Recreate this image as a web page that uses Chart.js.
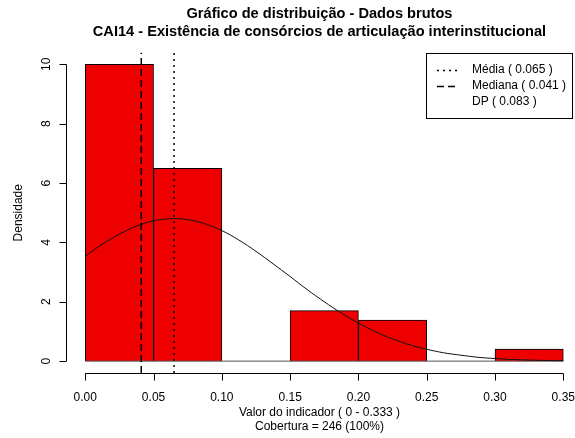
<!doctype html>
<html lang="pt">
<head>
    <meta charset="utf-8">
    <title>CAI14 - Gráfico de distribuição</title>
    <style>
        html, body { margin: 0; padding: 0; background: #fff; }
        #wrap { width: 575px; height: 438px; }
    </style>
</head>
<body>
    <div id="wrap"><canvas id="myChart" width="575" height="438"></canvas></div>

    <script src="https://cdn.jsdelivr.net/npm/chart.js"></script>
    <script>
        // histogram (densidade por classe de 0.05)
        var binMids = [0.025, 0.075, 0.125, 0.175, 0.225, 0.275, 0.325];
        var density = [10, 6.5, 0, 1.7, 1.38, 0, 0.41];
        var binStart = 0, binEnd = 0.35;

        // curva normal
        var curveX = [0, 0.0125, 0.025, 0.0375, 0.05, 0.0625, 0.075, 0.0875, 0.1, 0.1125, 0.125, 0.1375,
                      0.15, 0.1625, 0.175, 0.1875, 0.2, 0.2125, 0.225, 0.2375, 0.25, 0.2625, 0.275, 0.2875,
                      0.3, 0.3125, 0.325, 0.3375, 0.35];
        var curveY = [3.54, 3.94, 4.28, 4.55, 4.73, 4.80, 4.77, 4.63, 4.40, 4.08, 3.70, 3.28,
                      2.85, 2.41, 2.00, 1.62, 1.28, 0.99, 0.75, 0.55, 0.40, 0.28, 0.20, 0.13,
                      0.087, 0.056, 0.035, 0.022, 0.013];

        var media = 0.065, mediana = 0.041, dp = 0.083;

        var xTicks = [0, 0.05, 0.10, 0.15, 0.20, 0.25, 0.30, 0.35];
        var xTickLabels = ['0.00', '0.05', '0.10', '0.15', '0.20', '0.25', '0.30', '0.35'];
        var yTicks = [0, 2, 4, 6, 8, 10];

        var title1 = 'Gráfico de distribuição - Dados brutos';
        var title2 = 'CAI14 - Existência de consórcios de articulação interinstitucional';
        var xTitle1 = 'Valor do indicador ( 0 - 0.333 )';
        var xTitle2 = 'Cobertura = 246 (100%)';
        var yTitle = 'Densidade';
        var legendItems = [
            { text: 'Média ( ' + media + ' )', dash: [2, 4] },
            { text: 'Mediana ( ' + mediana + ' )', dash: [7, 4] },
            { text: 'DP ( ' + dp + ' )', dash: null }
        ];

        var FONT = '"Liberation Sans", Arial, sans-serif';
        var yMin = -0.4, yMax = 10.4;

        // eixos e legenda ao estilo R
        var rAxes = {
            id: 'rAxes',
            afterDraw: function (chart) {
                var ctx = chart.ctx;
                var xs = chart.scales.x, ys = chart.scales.y;
                var area = chart.chartArea;
                ctx.save();
                ctx.strokeStyle = '#000';
                ctx.fillStyle = '#000';
                ctx.lineWidth = 1;

                // eixo x
                var yb = Math.round(area.bottom) + 0.5;
                ctx.beginPath();
                ctx.moveTo(xs.getPixelForValue(xTicks[0]), yb);
                ctx.lineTo(xs.getPixelForValue(xTicks[xTicks.length - 1]), yb);
                xTicks.forEach(function (t) {
                    var px = Math.round(xs.getPixelForValue(t)) + 0.5;
                    ctx.moveTo(px, yb);
                    ctx.lineTo(px, yb + 7);
                });
                ctx.stroke();
                ctx.font = '12px ' + FONT;
                ctx.textAlign = 'center';
                ctx.textBaseline = 'alphabetic';
                xTicks.forEach(function (t, i) {
                    ctx.fillText(xTickLabels[i], xs.getPixelForValue(t), yb + 27);
                });
                var cx = (area.left + area.right) / 2;
                ctx.fillText(xTitle1, cx, yb + 42);
                ctx.fillText(xTitle2, cx, yb + 56);

                // eixo y
                var xl = Math.round(area.left) + 0.5;
                ctx.beginPath();
                ctx.moveTo(xl, ys.getPixelForValue(yTicks[0]));
                ctx.lineTo(xl, ys.getPixelForValue(yTicks[yTicks.length - 1]));
                yTicks.forEach(function (t) {
                    var py = Math.round(ys.getPixelForValue(t)) + 0.5;
                    ctx.moveTo(xl, py);
                    ctx.lineTo(xl - 7, py);
                });
                ctx.stroke();
                yTicks.forEach(function (t) {
                    ctx.save();
                    ctx.translate(xl - 14, ys.getPixelForValue(t));
                    ctx.rotate(-Math.PI / 2);
                    ctx.textBaseline = 'bottom';
                    ctx.fillText(String(t), 0, 0);
                    ctx.restore();
                });
                ctx.save();
                ctx.translate(xl - 42, (area.top + area.bottom) / 2);
                ctx.rotate(-Math.PI / 2);
                ctx.textBaseline = 'bottom';
                ctx.fillText(yTitle, 0, 0);
                ctx.restore();

                // legenda
                var bx = 426.5, by = 53.5, bw = 146, bh = 65;
                ctx.fillStyle = '#fff';
                ctx.fillRect(bx, by, bw, bh);
                ctx.strokeRect(bx, by, bw, bh);
                ctx.fillStyle = '#000';
                ctx.textAlign = 'left';
                ctx.textBaseline = 'middle';
                legendItems.forEach(function (it, i) {
                    var ly = 70 + i * 16;
                    if (it.dash) {
                        ctx.save();
                        ctx.lineWidth = 1.5;
                        ctx.setLineDash(it.dash);
                        ctx.beginPath();
                        ctx.moveTo(437, ly + 0.5);
                        ctx.lineTo(459, ly + 0.5);
                        ctx.stroke();
                        ctx.restore();
                    }
                    ctx.fillText(it.text, 472, ly);
                });
                ctx.restore();
            }
        };

        var barData = binMids.map(function (x, i) { return { x: x, y: density[i] }; });
        var curveData = curveX.map(function (x, i) { return { x: x, y: curveY[i] }; });
        var noClip = { left: 0, top: 0, right: 0, bottom: 0 };

        new Chart('myChart', {
            type: 'bar',
            data: {
                datasets: [
                    {
                        type: 'line',
                        label: 'Mediana',
                        data: [{ x: mediana, y: yMin }, { x: mediana, y: yMax }],
                        borderColor: '#000',
                        borderWidth: 1.5,
                        borderDash: [7, 4],
                        pointRadius: 0,
                        clip: noClip,
                        order: 1
                    },
                    {
                        type: 'line',
                        label: 'Média',
                        data: [{ x: media, y: yMin }, { x: media, y: yMax }],
                        borderColor: '#000',
                        borderWidth: 1.5,
                        borderDash: [2, 4],
                        pointRadius: 0,
                        clip: noClip,
                        order: 1
                    },
                    {
                        type: 'line',
                        label: 'Normal',
                        data: curveData,
                        borderColor: '#111',
                        borderWidth: 1,
                        pointRadius: 0,
                        tension: 0.3,
                        order: 2
                    },
                    {
                        type: 'line',
                        label: 'base',
                        data: [{ x: binStart, y: 0 }, { x: binEnd, y: 0 }],
                        borderColor: '#555',
                        borderWidth: 1,
                        pointRadius: 0,
                        order: 4
                    },
                    {
                        type: 'bar',
                        label: 'Densidade',
                        data: barData,
                        backgroundColor: '#EE0000',
                        borderColor: '#000',
                        borderWidth: 1,
                        barPercentage: 1,
                        categoryPercentage: 1,
                        order: 5
                    }
                ]
            },
            options: {
                responsive: false,
                animation: false,
                layout: { padding: { left: 66, right: 2, top: 0, bottom: 65 } },
                scales: {
                    x: { type: 'linear', offset: false, min: -0.0141, max: 0.3571, display: false },
                    y: { type: 'linear', min: yMin, max: yMax, display: false }
                },
                plugins: {
                    legend: { display: false },
                    tooltip: { enabled: false },
                    title: {
                        display: true,
                        text: [title1, title2],
                        color: '#000',
                        font: { family: FONT, size: 14.6, weight: 'bold', lineHeight: 1.25 },
                        padding: { top: 5, bottom: 11 }
                    }
                }
            },
            plugins: [rAxes]
        });
    </script>
</body>
</html>
